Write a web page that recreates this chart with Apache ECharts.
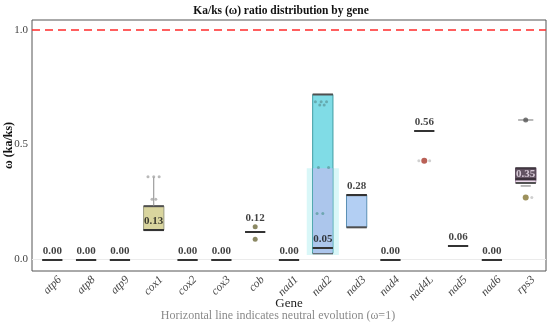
<!DOCTYPE html>
<html><head><meta charset="utf-8">
<script src="https://cdn.jsdelivr.net/npm/echarts@6/dist/echarts.min.js"></script>
<style>html,body{margin:0;padding:0;background:#fff}#c{width:550px;height:326px}</style>
</head><body><div id="c"></div>
<script>
// ---- data ----
const genes = ['atp6','atp8','atp9','cox1','cox2','cox3','cob','nad1','nad2','nad3','nad4','nad4L','nad5','nad6','rps3'];
const medians = [0,0,0,0.13,0,0,0.12,0,0.05,0.28,0,0.56,0.06,0,0.35];
const labelTexts = ['0.00','0.00','0.00','0.13','0.00','0.00','0.12','0.00','0.05','0.28','0.00','0.56','0.06','0.00','0.35'];
const yTicks = [0, 0.5, 1.0];
// boxes: [geneIndex, lower, upper]
const boxes = [[3,0.128,0.232],[8,0.027,0.718],[9,0.14,0.28],[14,0.333,0.397]];
const nad2Shade = [[8,0.02,0.397]];
const nad2Overlap = [[8,0.027,0.397]];
const whiskers = [[3,0.232,0.36]];
const extraLines = [[14,0.607],[14,0.32]];
const cox1Points = [[2.83,0.36],[3.0,0.36],[3.16,0.36],[2.95,0.262],[3.06,0.262]];
const cobPoints = [[6,0.142],[6,0.088]];
const nad2Points = [[7.78,0.686],[7.95,0.686],[8.11,0.686],[7.91,0.672],[8.04,0.672],[7.87,0.40],[8.17,0.40],[7.83,0.20],[8.0,0.20]];
const nad4LPoint = [[11,0.43]];
const greyHalo = [[10.84,0.43],[11.16,0.43],[14.18,0.27]];
const rps3Top = [[14,0.607]];
const rps3Low = [[14,0.27]];
const neutralLine = 1.0;

// ---- styles ----
const boxFills = ['#d9d59e','#80dce6','#b3cff3','#f4e2f4'];
const boxSides = ['#9a9a80','#3f9da3','#5a8fb5','#b89ab8'];
const FONT = '"Liberation Serif", "DejaVu Serif", serif';
const idx = genes.map((g,i)=>i);
const labelShift = 0.22; // rotated labels sit slightly right of their box (ggplot justification)
const SPECIAL = [6, 14];

function rectItem(params, api, widthUnits, fill, stroke, edges){
  const x = api.value(0), lo = api.value(1), hi = api.value(2);
  const p1 = api.coord([x, hi]), p2 = api.coord([x, lo]);
  const w = api.size([widthUnits, 0])[0];
  const ch = [{type:'rect', shape:{x:p1[0]-w/2, y:p1[1], width:w, height:p2[1]-p1[1]},
    style:{fill:fill, stroke:stroke, lineWidth:stroke?1:0}}];
  if (edges) {
    ch.push({type:'line', shape:{x1:p1[0]-w/2, y1:p1[1], x2:p1[0]+w/2, y2:p1[1]}, style:{stroke:'#4f4f4f', lineWidth:2}});
    ch.push({type:'line', shape:{x1:p2[0]-w/2, y1:p2[1], x2:p2[0]+w/2, y2:p2[1]}, style:{stroke:'#4f4f4f', lineWidth:2}});
  }
  return {type:'group', children:ch};
}
const labelFont = {fontFamily:FONT, fontWeight:'bold', fontSize:11, color:'#111'};

const chart = echarts.init(document.getElementById('c'), null, {renderer:'canvas'});
chart.setOption({
  animation:false,
  backgroundColor:'#fff',
  title:{text:'Ka/ks (ω) ratio distribution by gene', left:276, top:0, textAlign:'center',
    textStyle:{fontFamily:FONT, fontWeight:'bold', fontSize:11.5, color:'#111'}},
  graphic:[{type:'text', x:278, y:310, style:{text:'Horizontal line indicates neutral evolution (ω=1)',
    font:'12px "Liberation Serif", serif', fill:'#8a8a8a', align:'center'}}],
  grid:{left:32, right:4, top:20, bottom:55, show:true, borderColor:'#555', borderWidth:1, outerBoundsMode:'none', containLabel:false},
  xAxis:[{type:'value', min:-0.6, max:14.6,
    name:'Gene', nameLocation:'middle', nameGap:26, nameMoveOverlap:false,
    nameTextStyle:{fontFamily:FONT, fontSize:13, color:'#222'},
    axisLine:{show:false}, splitLine:{show:false}, axisTick:{show:false}, axisLabel:{show:false}},
   {type:'value', min:-0.6-labelShift, max:14.6-labelShift, position:'bottom',
    axisLine:{show:false}, splitLine:{show:false}, axisTick:{show:false},
    axisLabel:{customValues:idx, formatter:v=>genes[Math.round(v)], rotate:45, margin:7,
      fontFamily:FONT, fontStyle:'italic', fontSize:11.5, color:'#444'}}],
  yAxis:{type:'value', min:-0.05, max:1.042,
    name:'ω (ka/ks)', nameLocation:'middle', nameGap:17, nameMoveOverlap:false,
    nameTextStyle:{fontFamily:FONT, fontWeight:'bold', fontSize:12, color:'#111'},
    axisLine:{show:false}, splitLine:{show:false},
    axisTick:{show:false},
    axisLabel:{customValues:yTicks, formatter:v=>v.toFixed(1), margin:4,
      fontFamily:FONT, fontSize:11, color:'#444'}},
  series:[
    {type:'custom', name:'nad2shade', z:1, data:nad2Shade,
      renderItem:(p,api)=>rectItem(p,api,0.95,'#d9f7f8',null,false)},
    {type:'custom', name:'boxes', z:2, data:boxes,
      renderItem:(p,api)=>rectItem(p,api,0.6,boxFills[p.dataIndex],boxSides[p.dataIndex],true),
      markLine:{silent:true, symbol:'none', label:{show:false}, z:1,
        data:[{yAxis:0, lineStyle:{color:'#ebebeb', type:'solid', width:1}},
              {yAxis:neutralLine, lineStyle:{color:'#ff2a2a', type:[8,5], width:1.5}}]}},
    {type:'custom', name:'nad2overlap', z:3, data:nad2Overlap,
      renderItem:(p,api)=>rectItem(p,api,0.58,'#acc6ec',null,false)},
    {type:'custom', name:'whisker', z:3, data:whiskers,
      renderItem:(p,api)=>{const a=api.coord([api.value(0),api.value(1)]), b=api.coord([api.value(0),api.value(2)]);
        return {type:'line', shape:{x1:a[0],y1:a[1],x2:b[0],y2:b[1]}, style:{stroke:'#8a8a8a', lineWidth:1}};}},
    {type:'custom', name:'medians', z:4, data:medians.map((m,i)=>[i,m]),
      renderItem:(p,api)=>{const c=api.coord([api.value(0),api.value(1)]); const w=api.size([0.6,0])[0];
        return {type:'line', shape:{x1:c[0]-w/2,y1:Math.round(c[1]),x2:c[0]+w/2,y2:Math.round(c[1])}, style:{stroke:'#333', lineWidth:2}};}},
    {type:'custom', name:'extraLines', z:4, data:extraLines,
      renderItem:(p,api)=>{const c=api.coord([api.value(0),api.value(1)]); const w=api.size([p.dataIndex===0?0.45:0.3,0])[0];
        return {type:'line', shape:{x1:c[0]-w/2,y1:c[1],x2:c[0]+w/2,y2:c[1]}, style:{stroke:'#8a8a8a', lineWidth:1.2}};}},
    {type:'scatter', z:5, data:cox1Points, symbolSize:3, itemStyle:{color:'#a8a8a8'}},
    {type:'scatter', z:5, data:cobPoints, symbolSize:5, itemStyle:{color:'#6e6a3c'}},
    {type:'scatter', z:5, data:nad2Points, symbolSize:3, itemStyle:{color:'#5f9fa3'}},
    {type:'scatter', z:5, data:greyHalo, symbolSize:3, itemStyle:{color:'#c4c4c4'}},
    {type:'scatter', z:5, data:nad4LPoint, symbolSize:6, itemStyle:{color:'#a8382c'}},
    {type:'scatter', z:5, data:rps3Top, symbolSize:5, itemStyle:{color:'#555'}},
    {type:'scatter', z:5, data:rps3Low, symbolSize:6, itemStyle:{color:'#857633'}},
    {type:'scatter', z:6, symbolSize:0, data:medians.map((m,i)=>[i,m]).filter((d,i)=>!SPECIAL.includes(i)),
      label:Object.assign({show:true, position:'top', distance:3, formatter:p=>labelTexts[p.data[0]]}, labelFont)},
    {type:'scatter', z:6, symbolSize:0, data:[[6, medians[6]]],
      label:Object.assign({show:true, position:'top', distance:8, formatter:p=>labelTexts[6]}, labelFont)},
    {type:'scatter', z:6, symbolSize:0, data:[[14, medians[14]]],
      label:{show:true, position:'inside', offset:[0,-5], formatter:p=>labelTexts[14],
        fontFamily:FONT, fontWeight:'bold', fontSize:11, color:'#f2e6f2', backgroundColor:'#3d2f3d', padding:[1,1]}}
  ]
});
</script></body></html>
